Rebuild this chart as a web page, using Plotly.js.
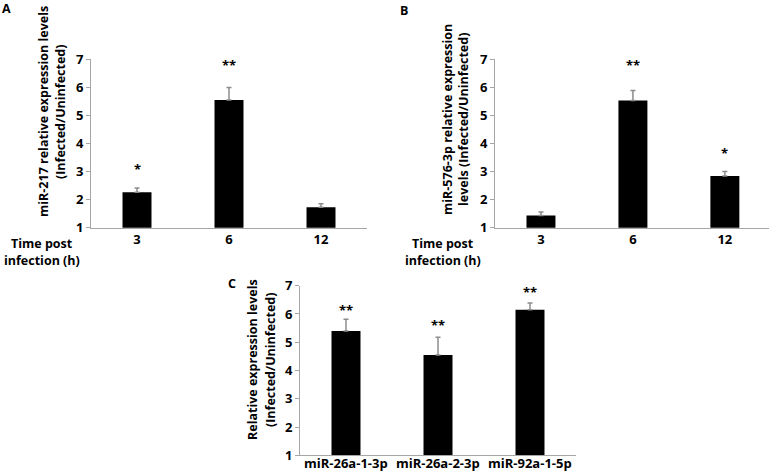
<!DOCTYPE html>
<html>
<head>
<meta charset="utf-8">
<script src="https://cdn.plot.ly/plotly-3.0.1.min.js"></script>
<style>html,body{margin:0;padding:0;background:#fff;}#chart{width:769px;height:473px;}</style>
</head>
<body>
<div id="chart"></div>
<script>
// Panel A
const catsA = ['3', '6', '12'];
const valsA = [2.26, 5.54, 1.73];
const errA = [0.15, 0.45, 0.12];
const starsA = ['*', '**', ''];
const starYA = [3.19, 6.88, 0];
// Panel B
const catsB = ['3', '6', '12'];
const valsB = [1.43, 5.52, 2.84];
const errB = [0.13, 0.36, 0.16];
const starsB = ['', '**', '*'];
const starYB = [0, 6.88, 3.76];
// Panel C
const catsC = ['miR-26a-1-3p', 'miR-26a-2-3p', 'miR-92a-1-5p'];
const valsC = [5.40, 4.55, 6.15];
const errC = [0.41, 0.63, 0.24];
const starsC = ['**', '**', '**'];
const starYC = [6.26, 5.72, 6.87];
const yTicks = [1, 2, 3, 4, 5, 6, 7];

const FONT = '"Open Sans", "Noto Sans", "DejaVu Sans", sans-serif';
const AXC = '#a6a6a6';

function barTrace(cats, vals, errs, xa, ya) {
  return {
    type: 'bar', x: cats, y: vals, xaxis: xa, yaxis: ya,
    width: 0.315,
    marker: {color: '#000000', line: {width: 0}},
    error_y: {type: 'data', symmetric: false, array: errs, arrayminus: errs.map(() => 0),
      color: '#8c8c8c', thickness: 1.5, width: 2.5},
    hoverinfo: 'skip', showlegend: false
  };
}

const data = [
  barTrace(catsA, valsA, errA, 'x', 'y'),
  barTrace(catsB, valsB, errB, 'x2', 'y2'),
  barTrace(catsC, valsC, errC, 'x3', 'y3')
];

function xAx(domain, anchor, range, showLabels) {
  return {domain: domain, anchor: anchor, type: 'category', range: range,
    showline: true, linecolor: AXC, linewidth: 1, ticks: '', showgrid: false, zeroline: false,
    showticklabels: showLabels,
    tickfont: {family: FONT, size: 13, color: '#000', weight: 'bold'}, fixedrange: true};
}
function yAx(domain, anchor) {
  return {domain: domain, anchor: anchor, range: [1, 7], tickvals: yTicks, ticktext: yTicks.map(String),
    showline: true, linecolor: AXC, linewidth: 1, ticks: 'outside', ticklen: 4, tickcolor: AXC,
    showgrid: false, zeroline: false,
    tickfont: {family: FONT, size: 13, color: '#000', weight: 'bold'}, fixedrange: true};
}

const annotations = [];
function starAnn(cats, stars, ys, xa, ya) {
  cats.forEach((c, i) => {
    if (stars[i]) annotations.push({x: i, y: ys[i], xref: xa, yref: ya, text: stars[i], showarrow: false,
      yanchor: 'middle', yshift: -3, font: {family: FONT, size: 13, color: '#000', weight: 'bold'}});
  });
}
starAnn(catsA, starsA, starYA, 'x', 'y');
starAnn(catsB, starsB, starYB, 'x2', 'y2');
starAnn(catsC, starsC, starYC, 'x3', 'y3');

// Panel C category labels placed just under its axis
catsC.forEach((c, i) => {
  annotations.push({x: i, y: 1 - 463 / 473, xref: 'x3', yref: 'paper', text: c, showarrow: false,
    xanchor: 'center', yanchor: 'middle', font: {family: FONT, size: 13, color: '#000', weight: 'bold'}});
});

function txt(text, xpx, ypx, size, angle) {
  annotations.push({x: xpx / 769, y: 1 - ypx / 473, xref: 'paper', yref: 'paper', text: text,
    showarrow: false, xanchor: 'center', yanchor: 'middle', textangle: angle || 0,
    font: {family: FONT, size: size, color: '#000', weight: 'bold'}});
}
// Panel letters
txt('A', 6, 9, 12.5);
txt('B', 404, 10, 12.5);
txt('C', 232, 283, 12.5);
// Y titles
txt('miR-217 relative expression levels', 43, 112, 12.5, -90);
txt('(Infected/Uninfected)', 60, 112, 12.5, -90);
txt('miR-576-3p relative expression', 447, 120, 12.5, -90);
txt('levels (Infected/Uninfected)', 463, 120, 12.5, -90);
txt('Relative expression levels', 252, 360, 12.5, -90);
txt('(Infected/Uninfected)', 270, 360, 12.5, -90);
// X titles
txt('Time post', 42, 243, 12.5);
txt('infection (h)', 42, 260, 12.5);
txt('Time post', 443, 243, 12.5);
txt('infection (h)', 443, 260, 12.5);

const layout = {
  width: 769, height: 473,
  margin: {l: 0, r: 0, t: 0, b: 0},
  paper_bgcolor: '#fff', plot_bgcolor: '#fff',
  xaxis: xAx([91 / 769, 367 / 769], 'y', [-0.5, 2.5], true),
  yaxis: yAx([1 - 227.7 / 473, 1 - 59 / 473], 'x'),
  xaxis2: xAx([495 / 769, 1], 'y2', [-0.5, 2.48], true),
  yaxis2: yAx([1 - 227.7 / 473, 1 - 59 / 473], 'x2'),
  xaxis3: xAx([300 / 769, 576 / 769], 'y3', [-0.5, 2.5], false),
  yaxis3: yAx([1 - 455.3 / 473, 1 - 285.7 / 473], 'x3'),
  annotations: annotations,
  showlegend: false
};

Plotly.newPlot('chart', data, layout, {staticPlot: true, displayModeBar: false});
</script>
</body>
</html>
